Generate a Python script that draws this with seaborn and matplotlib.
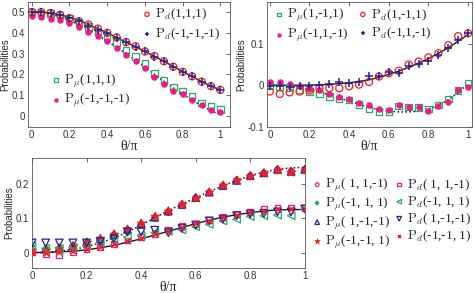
import numpy as np
import matplotlib
matplotlib.use("Agg")
import matplotlib.pyplot as plt
import seaborn as sns

# theta / pi sampling
theta = [0, 0.05, 0.1, 0.15, 0.2, 0.25, 0.3, 0.35, 0.4, 0.45, 0.5,
         0.55, 0.6, 0.65, 0.7, 0.75, 0.8, 0.85, 0.9, 0.95, 1.0]

# ---- panel (a): (1,1,1) / (-1,-1,-1)
a_theory_d = [0.5, 0.499, 0.495, 0.487, 0.475, 0.46, 0.44, 0.42, 0.4, 0.377, 0.355,
              0.333, 0.31, 0.287, 0.263, 0.238, 0.213, 0.19, 0.165, 0.143, 0.125]
a_theory_mu = [0.5, 0.497, 0.49, 0.478, 0.46, 0.44, 0.415, 0.39, 0.36, 0.33, 0.3,
               0.268, 0.235, 0.2, 0.167, 0.135, 0.105, 0.075, 0.05, 0.025, 0.005]
a_pd_111 = [0.5, 0.5, 0.495, 0.487, 0.47, 0.455, 0.44, 0.42, 0.4, 0.378, 0.355,
            0.335, 0.31, 0.288, 0.263, 0.237, 0.212, 0.19, 0.165, 0.143, 0.125]
a_pd_mmm = [0.5, 0.498, 0.495, 0.487, 0.47, 0.455, 0.435, 0.415, 0.4, 0.375, 0.355,
            0.333, 0.31, 0.285, 0.262, 0.237, 0.21, 0.19, 0.165, 0.142, 0.125]
a_pmu_111 = [0.5, 0.495, 0.493, 0.485, 0.47, 0.45, 0.43, 0.405, 0.38, 0.352, 0.318,
             0.285, 0.252, 0.205, 0.17, 0.14, 0.12, 0.093, 0.062, 0.045, 0.03]
a_pmu_mmm = [0.48, 0.475, 0.467, 0.46, 0.445, 0.43, 0.405, 0.385, 0.36, 0.325, 0.295,
             0.262, 0.232, 0.185, 0.155, 0.12, 0.105, 0.075, 0.05, 0.03, 0.02]

# ---- panel (b): (1,-1,1) / (-1,1,-1)
b_theory_d = [0, 0, 0, 0, 0.0005, 0.001, 0.002, 0.004, 0.006, 0.009, 0.013,
              0.019, 0.026, 0.034, 0.043, 0.053, 0.064, 0.077, 0.09, 0.106, 0.122]
b_theory_mu = [0, -0.001, -0.002, -0.005, -0.01, -0.016, -0.023, -0.031, -0.038, -0.046, -0.053,
               -0.059, -0.062, -0.064, -0.064, -0.062, -0.057, -0.048, -0.035, -0.018, 0.004]
b_pmu_1m1 = [-0.002, -0.004, -0.007, -0.011, -0.015, -0.021, -0.027, -0.033, -0.035, -0.046, -0.057,
             -0.0625, -0.0625, -0.05, -0.052, -0.053, -0.057, -0.048, -0.033, -0.0125, 0.006]
b_pmu_m1m = [0.007, 0.007, 0.004, -0.002, -0.008, -0.0125, -0.021, -0.029, -0.033, -0.042, -0.048,
             -0.057, -0.06, -0.0475, -0.0525, -0.052, -0.0625, -0.05, -0.04, -0.0125, -0.004]
b_pd_1m1 = [-0.015, -0.021, -0.017, -0.015, -0.0125, -0.007, -0.007, -0.007, -0.0025, 0.0017, 0.008,
            0.021, 0.029, 0.035, 0.05, 0.057, 0.067, 0.077, 0.096, 0.118, 0.125]
b_pd_m1m = [-0.0025, -0.0025, -0.004, -0.002, -0.002, 0, 0.004, 0.008, 0.006, 0.008, 0.0225,
            0.023, 0.032, 0.029, 0.046, 0.052, 0.058, 0.073, 0.09, 0.108, 0.125]

# ---- panel (c): remaining four configurations
c_theory_d = [0, 0.0005, 0.002, 0.004, 0.008, 0.014, 0.021, 0.03, 0.04, 0.051, 0.062,
              0.073, 0.084, 0.094, 0.103, 0.11, 0.116, 0.121, 0.124, 0.125, 0.125]
c_theory_mu = [0, 0.001, 0.004, 0.009, 0.017, 0.028, 0.042, 0.06, 0.08, 0.101, 0.122,
               0.141, 0.159, 0.177, 0.194, 0.21, 0.223, 0.234, 0.242, 0.246, 0.248]
c_pmu_11m = [0.004, 0.005, 0.008, 0.015, 0.025, 0.035, 0.05, 0.065, 0.08, 0.1, 0.117,
             0.138, 0.158, 0.174, 0.193, 0.208, 0.222, 0.23, 0.24, 0.236, 0.24]
c_pmu_m11 = [0.02, 0.012, 0.014, 0.02, 0.027, 0.037, 0.045, 0.06, 0.08, 0.1, 0.12,
             0.14, 0.158, 0.175, 0.193, 0.208, 0.22, 0.23, 0.24, 0.235, 0.236]
c_pmu_1mm = [0.01, 0.01, 0.014, 0.02, 0.03, 0.04, 0.053, 0.068, 0.085, 0.103, 0.121,
             0.14, 0.16, 0.176, 0.195, 0.21, 0.224, 0.232, 0.242, 0.236, 0.242]
c_pmu_mm1 = [0.009, 0.009, 0.012, 0.019, 0.03, 0.043, 0.055, 0.07, 0.087, 0.105, 0.122,
             0.141, 0.16, 0.175, 0.195, 0.212, 0.222, 0.231, 0.241, 0.234, 0.239]
c_pd_11m = [0.001, -0.003, -0.006, 0.003, 0.011, 0.016, 0.025, 0.035, 0.045, 0.055, 0.067,
            0.077, 0.084, 0.094, 0.104, 0.112, 0.119, 0.126, 0.131, 0.131, 0.129]
c_pd_m11 = [0.02, 0.012, 0.012, 0.015, 0.02, 0.03, 0.04, 0.045, 0.05, 0.058, 0.062,
            0.066, 0.075, 0.082, 0.092, 0.097, 0.105, 0.107, 0.109, 0.107, 0.126]
c_pd_1mm = [0.028, 0.028, 0.028, 0.028, 0.028, 0.032, 0.04, 0.06, 0.06, 0.065, 0.058,
            0.07, 0.08, 0.092, 0.097, 0.107, 0.112, 0.114, 0.118, 0.118, 0.127]
c_pd_mm1 = [0.0, 0.0, 0.002, 0.005, 0.01, 0.015, 0.025, 0.035, 0.043, 0.053, 0.064,
            0.075, 0.085, 0.093, 0.103, 0.11, 0.117, 0.122, 0.126, 0.128, 0.127]

RED = "#ff1a1a"
BLUE = "#23239a"
GREEN = "#20b060"
MAG = "#ee1a8c"

sns.set_theme(style="white")
plt.rcParams["font.family"] = ["Liberation Sans", "DejaVu Sans"]
plt.rcParams["mathtext.fontset"] = "cm"
plt.rcParams["xtick.direction"] = "in"
plt.rcParams["ytick.direction"] = "in"
plt.rcParams["xtick.top"] = True
plt.rcParams["ytick.right"] = True
plt.rcParams["xtick.major.size"] = 3
plt.rcParams["ytick.major.size"] = 3
plt.rcParams["xtick.major.width"] = 0.5
plt.rcParams["ytick.major.width"] = 0.5
plt.rcParams["axes.linewidth"] = 0.6
plt.rcParams["axes.edgecolor"] = "#555555"


def lab(sub, cfg):
    return r"$\mathrm{P}_{" + sub + r"}$" + "(" + cfg + ")"


def pts(ax, y, marker, color, open_=True, s=22, lw=0.9, label=None):
    if open_:
        sns.scatterplot(x=theta, y=y, ax=ax, marker=marker, s=s, color=color,
                        facecolor="none", edgecolor=color, linewidth=lw,
                        label=label, zorder=3)
    else:
        sns.scatterplot(x=theta, y=y, ax=ax, marker=marker, s=s, color=color,
                        edgecolor=color, linewidth=lw, label=label, zorder=3)


def curves(ax, sol, dot):
    sns.lineplot(x=theta, y=sol, ax=ax, color="k", linewidth=1.0, zorder=2)
    sns.lineplot(x=theta, y=dot, ax=ax, color="k", linewidth=1.1,
                 linestyle=(0, (1, 1.6)), zorder=2)


def style(ax, xlim, ylim, yticks, ylabels):
    ax.set_xlim(*xlim)
    ax.set_ylim(*ylim)
    ax.set_xticks([0, 0.2, 0.4, 0.6, 0.8, 1])
    ax.set_xticklabels(["0", "0.2", "0.4", "0.6", "0.8", "1"])
    ax.set_yticks(yticks)
    ax.set_yticklabels(ylabels)
    ax.tick_params(labelsize=7, pad=2, colors="#333333")
    ax.set_xlabel("θ/π", fontsize=10, family="Liberation Serif", labelpad=0)
    ax.set_ylabel("Probabilities", fontsize=7, labelpad=1)


fig = plt.figure(figsize=(4.74, 2.93), dpi=100)
LEGKW = dict(frameon=False, prop={"family": "Liberation Serif", "size": 9.5},
             handletextpad=0.2, borderpad=0, borderaxespad=0,
             handlelength=0.8, markerscale=0.6, loc="upper left",
             bbox_transform=fig.transFigure)

axa = fig.add_axes([0.059, 0.567, 0.426, 0.426])
axb = fig.add_axes([0.563, 0.567, 0.433, 0.426])
axc = fig.add_axes([0.0675, 0.085, 0.5755, 0.376])

# panel (a)
curves(axa, a_theory_d, a_theory_mu)
pts(axa, a_pmu_111, "s", GREEN, label=lab(r"\mu", "1,1,1"))
pts(axa, a_pmu_mmm, "o", MAG, open_=False, s=14, label=lab(r"\mu", "-1,-1,-1"))
pts(axa, a_pd_111, "o", RED, s=26, label=lab("d", "1,1,1"))
pts(axa, a_pd_mmm, "+", BLUE, open_=False, s=30, lw=1.1, label=lab("d", "-1,-1,-1"))
style(axa, (-0.02, 1.05), (-0.053, 0.548), [0, 0.1, 0.2, 0.3, 0.4, 0.5],
      ["0", "0.1", "0.2", "0.3", "0.4", "0.5"])
h, l = axa.get_legend_handles_labels()
axa.legend_.remove()
leg1 = axa.legend(h[:2], l[:2], bbox_to_anchor=(0.107, 0.752), labelspacing=0.18, **LEGKW)
axa.add_artist(leg1)
axa.legend(h[2:], l[2:], bbox_to_anchor=(0.299, 0.976), labelspacing=0.3, **LEGKW)

# panel (b)
curves(axb, b_theory_d, b_theory_mu)
pts(axb, b_pmu_1m1, "s", GREEN, label=lab(r"\mu", "1,-1,1"))
pts(axb, b_pmu_m1m, "o", MAG, open_=False, s=14, label=lab(r"\mu", "-1,1,-1"))
pts(axb, b_pd_1m1, "o", RED, s=26, label=lab("d", "1,-1,1"))
pts(axb, b_pd_m1m, "+", BLUE, open_=False, s=30, lw=1.1, label=lab("d", "-1,1,-1"))
style(axb, (-0.015, 1.02), (-0.1, 0.2), [-0.1, 0, 0.1], ["-0.1", "0", "0.1"])
h, l = axb.get_legend_handles_labels()
axb.legend(h, l, bbox_to_anchor=(0.577, 0.976), ncol=2, columnspacing=0.7,
           labelspacing=0.22, **LEGKW)

# panel (c)
curves(axc, c_theory_d, c_theory_mu)
pts(axc, c_pmu_11m, "o", MAG, s=20, label=lab(r"\mu", " 1, 1,-1"))
pts(axc, c_pmu_m11, "P", GREEN, open_=False, s=16, lw=0.3, label=lab(r"\mu", "-1, 1, 1"))
pts(axc, c_pmu_1mm, "^", BLUE, s=30, label=lab(r"\mu", " 1,-1,-1"))
pts(axc, c_pmu_mm1, "*", RED, open_=False, s=45, lw=0.5, label=lab(r"\mu", "-1,-1, 1"))
pts(axc, c_pd_11m, "s", MAG, s=18, label=lab("d", " 1, 1,-1"))
pts(axc, c_pd_m11, "<", GREEN, s=30, label=lab("d", "-1, 1, 1"))
pts(axc, c_pd_1mm, "v", BLUE, s=30, label=lab("d", " 1,-1,-1"))
pts(axc, c_pd_mm1, "x", RED, open_=False, s=14, lw=1.0, label=lab("d", "-1,-1, 1"))
style(axc, (0, 1), (-0.045, 0.275), [0, 0.1, 0.2], ["0", "0.1", "0.2"])
h, l = axc.get_legend_handles_labels()
axc.legend(h, l, bbox_to_anchor=(0.658, 0.395), ncol=2, columnspacing=0.3,
           labelspacing=0.12, **LEGKW)

fig.savefig("out.png", dpi=100)
